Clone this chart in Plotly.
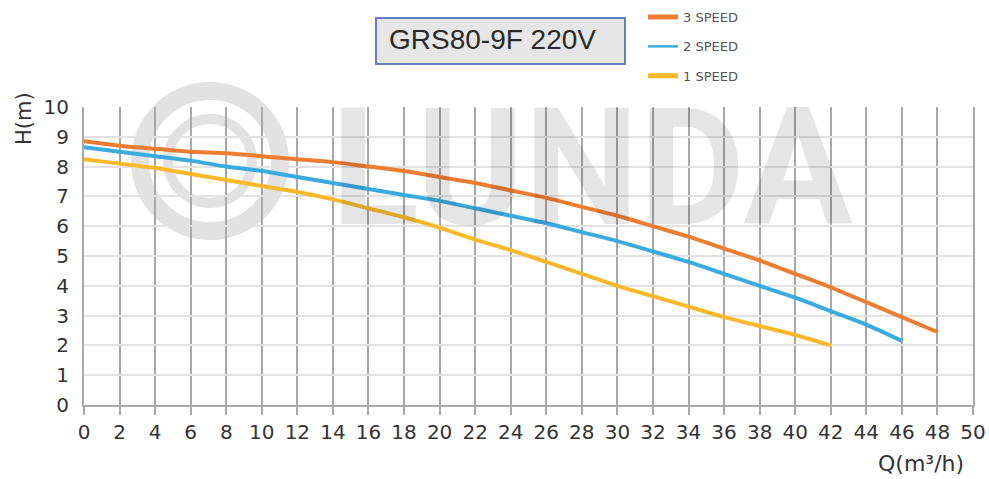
import plotly.graph_objects as go

q3 = [0, 2, 4, 6, 8, 10, 12, 14, 16, 18, 20, 22, 24, 26, 28, 30, 32, 34, 36, 38, 40, 42, 44, 46, 48]
h3 = [8.85, 8.7, 8.6, 8.5, 8.45, 8.35, 8.25, 8.15, 8.0, 7.85, 7.65, 7.45, 7.2, 6.95, 6.65, 6.35, 6.0, 5.65, 5.25, 4.85, 4.4, 3.95, 3.45, 2.95, 2.45]
q2 = [0, 2, 4, 6, 8, 10, 12, 14, 16, 18, 20, 22, 24, 26, 28, 30, 32, 34, 36, 38, 40, 42, 44, 46]
h2 = [8.65, 8.5, 8.35, 8.2, 8.0, 7.85, 7.65, 7.45, 7.25, 7.05, 6.85, 6.6, 6.35, 6.1, 5.8, 5.5, 5.15, 4.8, 4.4, 4.0, 3.6, 3.15, 2.7, 2.15]
q1 = [0, 2, 4, 6, 8, 10, 12, 14, 16, 18, 20, 22, 24, 26, 28, 30, 32, 34, 36, 38, 40, 42]
h1 = [8.25, 8.1, 7.95, 7.75, 7.55, 7.35, 7.15, 6.9, 6.6, 6.3, 5.95, 5.55, 5.2, 4.8, 4.4, 4.0, 3.65, 3.3, 2.95, 2.65, 2.35, 2.0]

series = [
    ("3 SPEED", q3, h3, "#ef7d31", 5),
    ("2 SPEED", q2, h2, "#3aabdf", 2.5),
    ("1 SPEED", q1, h1, "#fbb829", 5),
]
x_ticks = list(range(0, 51, 2))
y_ticks = list(range(0, 11))
title_text = "GRS80-9F 220V"

fig = go.Figure()
for name, q, h, c, lw in series:
    fig.add_trace(go.Scatter(x=q, y=h, mode="lines", name=name, legendgroup=name, showlegend=False,
                             line=dict(color=c, width=4, shape="spline", smoothing=0.8)))
for name, q, h, c, lw in series:
    # legend key only (no data drawn)
    fig.add_trace(go.Scatter(x=[None], y=[None], mode="lines", name=name, legendgroup=name,
                             showlegend=True, line=dict(color=c, width=lw)))

W, H = 989, 479
L, R, T, B = 84, 16, 107, 74
pw, ph = W - L - R, H - T - B

def px(xp):
    return (xp - L) / pw

def py(yp):
    return (H - B - yp) / ph

shapes = []
# watermark circles
for r, w in [(70, 18), (42, 10)]:
    cx, cy = 210, 161
    shapes.append(dict(type="circle", xref="paper", yref="paper", layer="below",
                       x0=px(cx - r), x1=px(cx + r), y0=py(cy + r), y1=py(cy - r),
                       line=dict(color="#e2e2e2", width=w)))
# title box
shapes.append(dict(type="rect", xref="paper", yref="paper",
                   x0=px(376), x1=px(625), y0=py(64), y1=py(18),
                   fillcolor="#e6e6e6", line=dict(color="#6b7cba", width=2)))

annotations = [
    dict(text="<b>LUNDA</b>", xref="paper", yref="paper", x=px(592), y=py(168), showarrow=False,
         font=dict(family="Roboto", size=163, color="rgba(0,0,0,0.1)"),
         xanchor="center", yanchor="middle"),
    dict(text=title_text, xref="paper", yref="paper", x=px(387), y=py(40), showarrow=False,
         font=dict(family="Liberation Sans", size=28, color="#2a2a2a"), xanchor="left", yanchor="middle"),
    dict(text="H(m)", xref="paper", yref="paper", x=px(24), y=py(119), showarrow=False, textangle=-90,
         font=dict(family="DejaVu Sans", size=21, color="#333333"), xanchor="center", yanchor="middle"),
    dict(text="Q(m³/h)", xref="paper", yref="paper", x=px(921), y=py(463), showarrow=False,
         font=dict(family="DejaVu Sans", size=22, color="#333333"), xanchor="center", yanchor="middle"),
]

fig.update_layout(
    width=W, height=H,
    margin=dict(l=L, r=R, t=T, b=B, autoexpand=False),
    paper_bgcolor="white", plot_bgcolor="rgba(0,0,0,0)",
    shapes=shapes, annotations=annotations,
    showlegend=True,
    legend=dict(x=px(643), y=py(2), xanchor="left", yanchor="top", traceorder="grouped",
                tracegroupgap=9.5, font=dict(family="DejaVu Sans", size=13, color="#555555"),
                bgcolor="rgba(0,0,0,0)", itemwidth=30),
    xaxis=dict(range=[0, 50], tickvals=x_ticks, ticktext=[str(v) for v in x_ticks],
               showgrid=True, gridcolor="#a8a8a8", gridwidth=2,
               showline=True, linecolor="#a8a8a8", linewidth=2,
               ticks="outside", ticklen=8, tickwidth=2, tickcolor="#a8a8a8",
               tickfont=dict(family="DejaVu Sans", size=20, color="#333333"),
               zeroline=False, fixedrange=True),
    yaxis=dict(range=[0, 10], tickvals=y_ticks, ticktext=[str(v) for v in y_ticks],
               showgrid=True, gridcolor="#e2e2e2", gridwidth=2,
               showline=True, mirror=True, linecolor="#a8a8a8", linewidth=2,
               ticks="", ticklabelstandoff=9,
               tickfont=dict(family="DejaVu Sans", size=20, color="#333333"),
               zeroline=False, fixedrange=True),
)

# remove the default 8px page margin so the figure fills the 989x479 window exactly
fig.write_html("out.html", config={"displayModeBar": False},
               post_script="document.body.style.margin='0';document.body.style.overflow='hidden';")
